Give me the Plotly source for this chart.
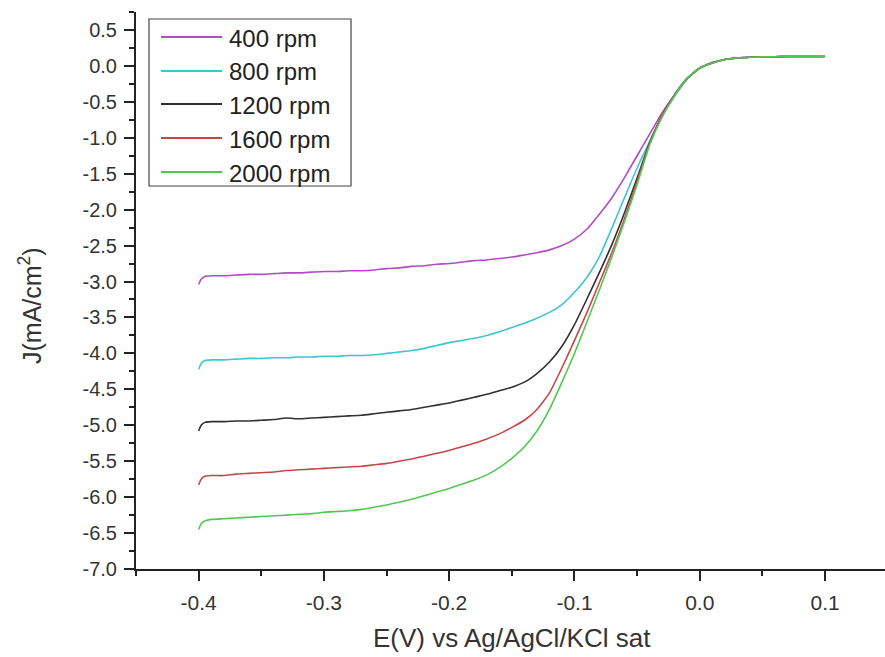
import plotly.graph_objects as go

# Electrode potential grid (V vs Ag/AgCl/KCl sat)
potential = [-0.400, -0.398, -0.395, -0.390,
             -0.38, -0.37, -0.36, -0.35, -0.34, -0.33, -0.32, -0.31, -0.30, -0.29,
             -0.28, -0.27, -0.26, -0.25, -0.24, -0.23, -0.22, -0.21, -0.20, -0.19,
             -0.18, -0.17, -0.16, -0.15, -0.14, -0.13, -0.12, -0.11, -0.10, -0.09,
             -0.08, -0.07, -0.06, -0.05, -0.04, -0.03, -0.02, -0.01, 0.00, 0.01,
             0.02, 0.03, 0.04, 0.05, 0.06, 0.07, 0.08, 0.09, 0.10]

# Current density (mA/cm^2) for each rotation rate
j_400 = [-3.04, -2.97, -2.93, -2.92,
         -2.92, -2.91, -2.90, -2.90, -2.89, -2.88, -2.88, -2.87, -2.86, -2.86,
         -2.85, -2.85, -2.84, -2.82, -2.81, -2.79, -2.78, -2.76, -2.75, -2.73,
         -2.71, -2.70, -2.68, -2.66, -2.63, -2.60, -2.56, -2.50, -2.41, -2.27,
         -2.06, -1.83, -1.55, -1.25, -0.95, -0.65, -0.40, -0.18, -0.03, 0.05,
         0.09, 0.11, 0.12, 0.125, 0.127, 0.13, 0.13, 0.13, 0.13]
j_800 = [-4.22, -4.14, -4.10, -4.09,
         -4.09, -4.08, -4.07, -4.07, -4.06, -4.06, -4.05, -4.05, -4.04, -4.04,
         -4.03, -4.03, -4.02, -4.00, -3.98, -3.96, -3.93, -3.89, -3.85, -3.82,
         -3.79, -3.75, -3.70, -3.64, -3.58, -3.51, -3.43, -3.32, -3.15, -2.94,
         -2.65, -2.25, -1.83, -1.42, -1.05, -0.70, -0.42, -0.18, -0.03, 0.04,
         0.09, 0.11, 0.12, 0.125, 0.127, 0.13, 0.13, 0.13, 0.13]
j_1200 = [-5.08, -5.00, -4.96, -4.95,
          -4.95, -4.94, -4.94, -4.93, -4.92, -4.90, -4.91, -4.90, -4.89, -4.88,
          -4.87, -4.86, -4.84, -4.82, -4.80, -4.78, -4.75, -4.72, -4.69, -4.65,
          -4.61, -4.57, -4.52, -4.47, -4.40, -4.28, -4.12, -3.90, -3.60, -3.24,
          -2.87, -2.48, -2.04, -1.56, -1.07, -0.69, -0.40, -0.17, -0.03, 0.04,
          0.09, 0.11, 0.12, 0.125, 0.127, 0.13, 0.13, 0.13, 0.13]
j_1600 = [-5.83, -5.75, -5.71, -5.70,
          -5.70, -5.68, -5.67, -5.66, -5.65, -5.63, -5.62, -5.61, -5.60, -5.59,
          -5.58, -5.57, -5.55, -5.53, -5.50, -5.47, -5.43, -5.39, -5.35, -5.30,
          -5.25, -5.19, -5.12, -5.03, -4.93, -4.78, -4.55, -4.20, -3.82, -3.43,
          -3.01, -2.59, -2.12, -1.61, -1.08, -0.69, -0.40, -0.17, -0.03, 0.04,
          0.09, 0.11, 0.12, 0.125, 0.127, 0.13, 0.13, 0.13, 0.13]
j_2000 = [-6.45, -6.37, -6.33, -6.31,
          -6.30, -6.29, -6.28, -6.27, -6.26, -6.25, -6.24, -6.23, -6.21, -6.20,
          -6.19, -6.17, -6.14, -6.11, -6.07, -6.03, -5.98, -5.93, -5.88, -5.82,
          -5.76, -5.69, -5.59, -5.46, -5.30, -5.08, -4.78, -4.40, -4.00, -3.56,
          -3.11, -2.65, -2.16, -1.65, -1.10, -0.71, -0.41, -0.17, -0.03, 0.04,
          0.09, 0.11, 0.12, 0.125, 0.127, 0.13, 0.13, 0.13, 0.13]

series_names = ["400 rpm", "800 rpm", "1200 rpm", "1600 rpm", "2000 rpm"]
series_values = [j_400, j_800, j_1200, j_1600, j_2000]
series_colors = ["#B04CC4", "#3EC6D0", "#303030", "#C44848", "#52C852"]

x_tick_vals = [-0.4, -0.3, -0.2, -0.1, 0.0, 0.1]
x_tick_text = ["-0.4", "-0.3", "-0.2", "-0.1", "0.0", "0.1"]
y_tick_vals = [0.5, 0.0, -0.5, -1.0, -1.5, -2.0, -2.5, -3.0, -3.5, -4.0,
               -4.5, -5.0, -5.5, -6.0, -6.5, -7.0]
y_tick_text = ["0.5", "0.0", "-0.5", "-1.0", "-1.5", "-2.0", "-2.5", "-3.0", "-3.5",
               "-4.0", "-4.5", "-5.0", "-5.5", "-6.0", "-6.5", "-7.0"]

W, H = 885, 657
L, R, T, B = 136, 0, 12, 88
plot_w, plot_h = W - L - R, H - T - B


def px(xp):
    return (xp - L) / plot_w


def py(yp):
    return (H - B - yp) / plot_h


FONT = "Liberation Sans, Arial, sans-serif"
AXIS_COLOR = "#222222"

fig = go.Figure()
for name, vals, col in zip(series_names, series_values, series_colors):
    fig.add_trace(go.Scatter(x=potential, y=vals, mode="lines", name=name,
                             line=dict(color=col, width=1.6, shape="spline", smoothing=0.5),
                             showlegend=False))

# Boxed legend with long line samples
shapes = [dict(type="rect", xref="paper", yref="paper",
               x0=px(149), x1=px(351), y0=py(186), y1=py(19),
               line=dict(color="#444444", width=1.2), fillcolor="white", layer="above")]
annotations = []
entry_y = [37, 71, 104, 138, 172]
for name, col, ey in zip(series_names, series_colors, entry_y):
    shapes.append(dict(type="line", xref="paper", yref="paper",
                       x0=px(161), x1=px(222), y0=py(ey), y1=py(ey),
                       line=dict(color=col, width=1.8), layer="above"))
    annotations.append(dict(xref="paper", yref="paper", x=px(227), y=py(ey + 1),
                            text=name, showarrow=False, xanchor="left", yanchor="middle",
                            font=dict(family=FONT, size=24, color="#222222")))

# Axis titles
annotations.append(dict(xref="paper", yref="paper", x=px(512), y=py(638),
                        text="E(V) vs Ag/AgCl/KCl sat", showarrow=False,
                        xanchor="center", yanchor="middle",
                        font=dict(family=FONT, size=26, color="#333333")))
annotations.append(dict(xref="paper", yref="paper", x=px(30), y=py(306),
                        text="J(mA/cm<sup>2</sup>)", showarrow=False, textangle=-90,
                        xanchor="center", yanchor="middle",
                        font=dict(family=FONT, size=25, color="#333333")))

fig.update_layout(
    width=W, height=H,
    margin=dict(l=L, r=R, t=T, b=B),
    paper_bgcolor="white", plot_bgcolor="white",
    shapes=shapes, annotations=annotations,
    font=dict(family=FONT),
)
fig.update_xaxes(range=[-0.45, -0.4 + (W - R - 198) / 1254.0],
                 tickmode="array", tickvals=x_tick_vals, ticktext=x_tick_text,
                 ticks="outside", ticklen=10, tickwidth=1.5, tickcolor=AXIS_COLOR,
                 showline=True, linecolor=AXIS_COLOR, linewidth=2,
                 showgrid=False, zeroline=False, ticklabelstandoff=4,
                 tickfont=dict(family=FONT, size=21, color="#333333"),
                 minor=dict(dtick=0.05, tick0=0.0, ticks="outside", ticklen=5,
                            tickwidth=1.5, tickcolor=AXIS_COLOR, showgrid=False))
fig.update_yaxes(range=[-7.0, 0.75],
                 tickmode="array", tickvals=y_tick_vals, ticktext=y_tick_text,
                 ticks="outside", ticklen=10, tickwidth=1.5, tickcolor=AXIS_COLOR,
                 showline=True, linecolor=AXIS_COLOR, linewidth=2,
                 showgrid=False, zeroline=False, ticklabelstandoff=3,
                 tickfont=dict(family=FONT, size=20, color="#333333"),
                 minor=dict(dtick=0.25, tick0=0.0, ticks="outside", ticklen=5,
                            tickwidth=1.5, tickcolor=AXIS_COLOR, showgrid=False))

fig.write_html("out.html")
